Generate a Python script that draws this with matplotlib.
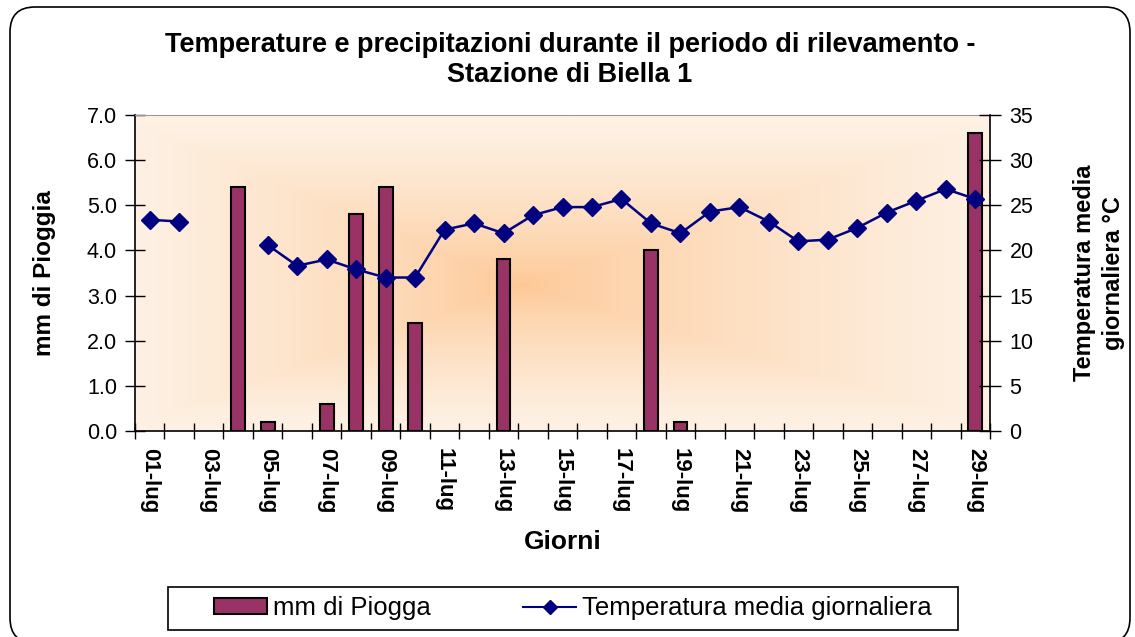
import numpy as np
import matplotlib
matplotlib.use("Agg")
import matplotlib.pyplot as plt
from matplotlib.patches import Patch, FancyBboxPatch, Rectangle
from matplotlib.lines import Line2D

plt.rcParams["font.family"] = ["Liberation Sans", "DejaVu Sans"]

# --- data ---
days = [f"{d:02d}-lug" for d in range(1, 30)]
rain_mm = [0, 0, 0, 5.4, 0.2, 0, 0.6, 4.8, 5.4, 2.4,
           0, 0, 3.8, 0, 0, 0, 0, 4.0, 0.2, 0,
           0, 0, 0, 0, 0, 0, 0, 0, 6.6]
temp_c = [23.4, 23.2, np.nan, np.nan, 20.6, 18.3, 19.0, 17.9, 17.0, 17.0,
          22.3, 23.0, 21.9, 23.9, 24.8, 24.8, 25.7, 23.0, 21.9, 24.3,
          24.8, 23.2, 21.0, 21.2, 22.5, 24.2, 25.5, 26.8, 25.7]

bar_color = "#993366"
line_color = "#000080"

fig = plt.figure(figsize=(11.35, 6.37), dpi=100)

# rounded outer frame (bottom runs off the picture)
frame = FancyBboxPatch((10, -6), 1120, 636, boxstyle="round,pad=0,rounding_size=25",
                       transform=None, facecolor="none", edgecolor="black",
                       linewidth=1.2, zorder=0)
fig.patches.append(frame)

ax = fig.add_axes([135 / 1135, 1 - 431 / 637, 855 / 1135, 316 / 637])
ax2 = ax.twinx()

# background gradient (rectangular, from an off-centre point)
ny, nx = 200, 300
yy, xx = np.mgrid[0:1:ny * 1j, 0:1:nx * 1j]
cx, cy = 0.45, 0.46
dx = np.where(xx < cx, (cx - xx) / cx, (xx - cx) / (1 - cx))
dy = np.where(yy < cy, (cy - yy) / cy, (yy - cy) / (1 - cy))
d = np.clip(np.maximum(dx, dy * 1.05), 0, 1) ** 0.72
c_in = np.array([253, 199, 148]) / 255
c_out = np.array([254, 241, 228]) / 255
img = c_in[None, None, :] * (1 - d[..., None]) + c_out[None, None, :] * d[..., None]
ax.imshow(img, extent=[0, 1, 0, 1], transform=ax.transAxes, aspect="auto",
          origin="lower", zorder=0, interpolation="bilinear")

x = np.arange(len(days))
rain = np.array(rain_mm)
wet = rain > 0
ax.bar(x[wet], rain[wet], width=0.47, color=bar_color, edgecolor="black",
       linewidth=1.5, zorder=2)
ax2.plot(x, temp_c, color=line_color, linewidth=1.8, marker="D",
         markersize=9, zorder=3)

ax.set_xlim(-0.5, len(days) - 0.5)
ax.set_ylim(0, 7)
ax2.set_ylim(0, 35)

ax.set_yticks(np.arange(0, 7.01, 1.0))
ax.set_yticklabels([f"{v:.1f}" for v in np.arange(0, 7.01, 1.0)])
ax2.set_yticks(np.arange(0, 36, 5))

ax.set_xticks(x[::2])
ax.set_xticklabels(days[::2], rotation=-90, fontweight="bold", fontsize=16)
ax.set_xticks(np.arange(-0.5, len(days), 1), minor=True)
ax.tick_params(axis="x", which="major", length=0, pad=12)
ax.tick_params(axis="x", which="minor", direction="inout", length=12, width=1)
ax.tick_params(axis="y", direction="inout", length=14, width=1, labelsize=15.5, pad=6)
ax2.tick_params(axis="y", direction="inout", length=16, width=1, labelsize=15.5, pad=6)

for s in ["left", "bottom"]:
    ax.spines[s].set_linewidth(1.2)
ax.spines["top"].set_color("#999999")
ax.spines["right"].set_visible(False)
for s in ["left", "top", "bottom"]:
    ax2.spines[s].set_visible(False)
ax2.spines["right"].set_linewidth(1.2)
ax2.patch.set_visible(False)

ax.set_xlabel("Giorni", fontsize=19, fontweight="bold", labelpad=12)
ax.set_ylabel("mm di Pioggia", fontsize=17.5, fontweight="bold", labelpad=22)
ax2.set_ylabel("Temperatura media\ngiornaliera °C", fontsize=17, fontweight="bold",
               labelpad=66, rotation=90, va="bottom", linespacing=1.35)

fig.text(0.502, 1 - 60 / 637,
         "Temperature e precipitazioni durante il periodo di rilevamento -\nStazione di Biella 1",
         ha="center", va="center", fontsize=19.5, fontweight="bold", linespacing=1.25)

# legend with a square box
box = Rectangle((168 / 1135, 1 - 630 / 637), 790 / 1135, 43 / 637,
                transform=fig.transFigure, facecolor="white", edgecolor="black",
                linewidth=1.2)
fig.patches.append(box)
handles = [Patch(facecolor=bar_color, edgecolor="black", linewidth=1.5),
           Line2D([], [], color=line_color, linewidth=1.5, marker="D", markersize=7)]
fig.legend(handles, ["mm di Piogga", "Temperatura media giornaliera"],
           loc="center", bbox_to_anchor=(573 / 1135, 1 - 608 / 637), ncol=2,
           frameon=False, fontsize=18.5, handlelength=2.05, handleheight=0.55,
           handletextpad=0.25, columnspacing=3.6)

fig.savefig("out.png", dpi=100)
